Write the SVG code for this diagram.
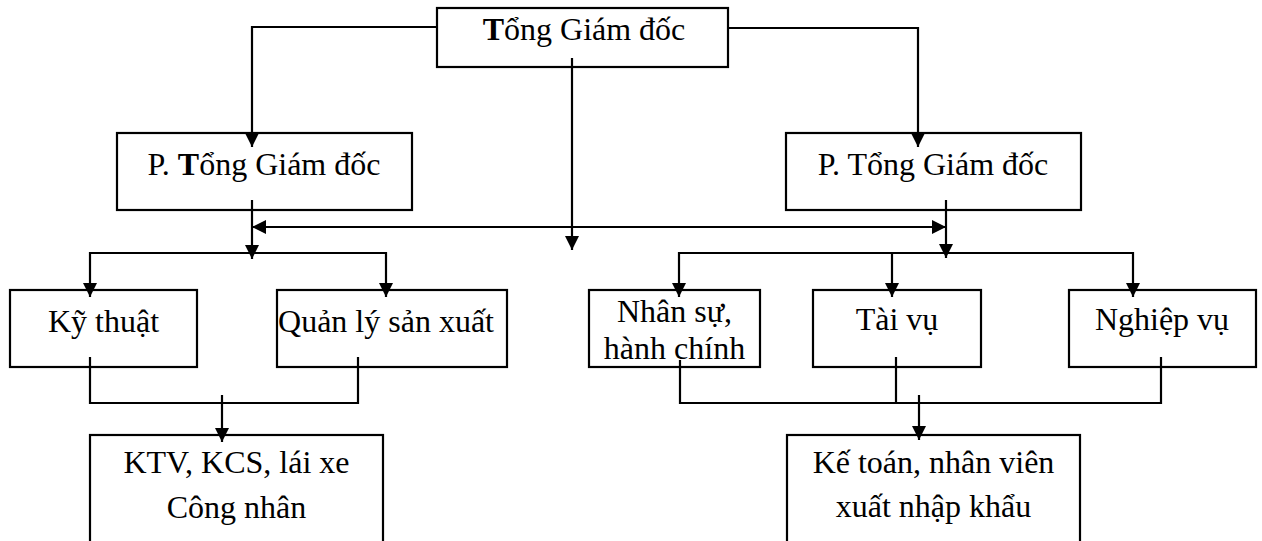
<svg xmlns="http://www.w3.org/2000/svg" width="1262" height="541" viewBox="0 0 1262 541">
<defs>
<style>
.box{fill:#fff;stroke:#000;stroke-width:2.2}
.t{font-family:"Liberation Serif","Times New Roman",serif;font-size:32px;fill:#000;text-anchor:middle}
.c{fill:none;stroke:#000;stroke-width:2.2}
</style>
<marker id="ah" viewBox="0 0 14 14" markerUnits="userSpaceOnUse" markerWidth="14" markerHeight="14" refX="14" refY="7" orient="auto">
<path d="M0,0 L14,7 L0,14 z" fill="#000"/>
</marker>
</defs>
<rect width="1262" height="541" fill="#fff"/>
<g id="n-tgd"><rect class="box" x="437" y="8" width="291" height="59"/><text class="t" x="584" y="40"><tspan font-weight="bold">T</tspan>ổng Giám đốc</text></g>
<g id="n-ptgd1"><rect class="box" x="117" y="133" width="295" height="77"/><text class="t" x="264" y="175">P. <tspan font-weight="bold">T</tspan>ổng Giám đốc</text></g>
<g id="n-ptgd2"><rect class="box" x="786" y="133" width="295" height="77"/><text class="t" x="933" y="175">P. Tổng Giám đốc</text></g>
<g id="n-kythuat"><rect class="box" x="10" y="290" width="187" height="77"/><text class="t" x="103.5" y="332">Kỹ thuật</text></g>
<g id="n-qlsx"><rect class="box" x="277" y="290" width="230" height="77"/><text class="t" x="386" y="332">Quản lý sản xuất</text></g>
<g id="n-nhansu"><rect class="box" x="589" y="290" width="171" height="77"/><text class="t" x="674.5" y="322">Nhân sự,</text><text class="t" x="674.5" y="359">hành chính</text></g>
<g id="n-taivu"><rect class="box" x="813" y="290" width="168" height="77"/><text class="t" x="897" y="330">Tài vụ</text></g>
<g id="n-nghiepvu"><rect class="box" x="1069" y="290" width="187" height="77"/><text class="t" x="1162" y="330">Nghiệp vụ</text></g>
<g id="n-ktv"><rect class="box" x="90" y="435" width="293" height="120"/><text class="t" x="236.5" y="473">KTV, KCS, lái xe</text><text class="t" x="236.5" y="518">Công nhân</text></g>
<g id="n-ketoan"><rect class="box" x="787" y="435" width="293" height="120"/><text class="t" x="933.5" y="473">Kế toán, nhân viên</text><text class="t" x="933.5" y="517">xuất nhập khẩu</text></g>
<g id="connectors">
<polyline class="c" points="437,27 252,27 252,147" marker-end="url(#ah)"/>
<polyline class="c" points="728,28 918,28 918,147" marker-end="url(#ah)"/>
<line class="c" x1="572" y1="58" x2="572" y2="250" marker-end="url(#ah)"/>
<line class="c" x1="252" y1="200" x2="252" y2="259" marker-end="url(#ah)"/>
<line class="c" x1="946" y1="200" x2="946" y2="258" marker-end="url(#ah)"/>
<line class="c" x1="600" y1="227" x2="252" y2="227" marker-end="url(#ah)"/>
<line class="c" x1="600" y1="227" x2="946" y2="227" marker-end="url(#ah)"/>
<line class="c" x1="90" y1="253" x2="386" y2="253"/>
<line class="c" x1="90" y1="252" x2="90" y2="297" marker-end="url(#ah)"/>
<line class="c" x1="386" y1="252" x2="386" y2="297" marker-end="url(#ah)"/>
<line class="c" x1="679" y1="253" x2="1133" y2="253"/>
<line class="c" x1="679" y1="252" x2="679" y2="297" marker-end="url(#ah)"/>
<line class="c" x1="892" y1="252" x2="892" y2="297" marker-end="url(#ah)"/>
<line class="c" x1="1133" y1="252" x2="1133" y2="297" marker-end="url(#ah)"/>
<polyline class="c" points="90,357 90,403 358,403 358,357"/>
<line class="c" x1="222" y1="395" x2="222" y2="442" marker-end="url(#ah)"/>
<polyline class="c" points="680,360 680,403 1161,403 1161,357"/>
<line class="c" x1="896" y1="357" x2="896" y2="403"/>
<line class="c" x1="919" y1="395" x2="919" y2="440" marker-end="url(#ah)"/>
</g>
</svg>
